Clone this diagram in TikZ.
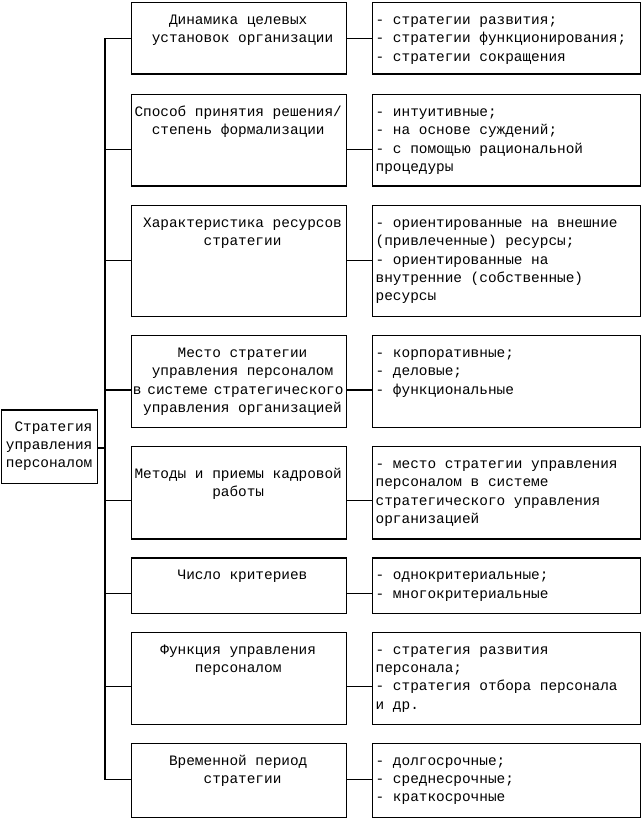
\documentclass[tikz,border=0pt]{standalone}
\usepackage{fontspec}
\newfontfamily\courfont{Liberation Mono}
\newcommand\myld{\hspace*{8.64pt}}
\newcommand\tsp{\hspace{5.9pt}}
\begin{document}
\begin{tikzpicture}[x=1pt,y=-1pt,
  box/.style={draw, line width=1.3pt, inner sep=0pt, anchor=north west},
  txt/.style={inner sep=0pt, font=\courfont\fontsize{14.4pt}{18.33pt}\selectfont},
  mtxt/.style={txt, anchor=base},
  rtxt/.style={txt, anchor=base west},
  ln/.style={line width=1.3pt}]
\useasboundingbox (0,0) rectangle (641,818);

% left box
\node[box, minimum width=96.3pt, minimum height=73.4pt] (L) at (0.7,409.3) {};
\node[txt, anchor=base east] (Lt) at (92.5,431) {\parbox[t]{90pt}{\raggedleft Стратегия\\управления\\персоналом}};

% middle boxes
\node[box, minimum width=215pt, minimum height=71.3pt] (m1) at (130.7,2) {};
\node[box, minimum width=215pt, minimum height=91.3pt] (m2) at (130.7,94) {};
\node[box, minimum width=215pt, minimum height=111pt]  (m3) at (130.7,205) {};
\node[box, minimum width=215pt, minimum height=91.7pt] (m4) at (130.7,335) {};
\node[box, minimum width=215pt, minimum height=92.3pt] (m5) at (130.7,446) {};
\node[box, minimum width=215pt, minimum height=55.4pt] (m6) at (130.7,557.3) {};
\node[box, minimum width=215pt, minimum height=92.3pt] (m7) at (130.7,631.7) {};
\node[box, minimum width=215pt, minimum height=74pt]   (m8) at (130.7,742.7) {};

% right boxes
\node[box, minimum width=267.5pt, minimum height=71.3pt] (r1) at (372,2) {};
\node[box, minimum width=267.5pt, minimum height=91.3pt] (r2) at (372,94) {};
\node[box, minimum width=267.5pt, minimum height=111pt]  (r3) at (372,205) {};
\node[box, minimum width=267.5pt, minimum height=91.7pt] (r4) at (372,335) {};
\node[box, minimum width=267.5pt, minimum height=92.3pt] (r5) at (372,446) {};
\node[box, minimum width=267.5pt, minimum height=55.4pt] (r6) at (372,557.3) {};
\node[box, minimum width=267.5pt, minimum height=92.3pt] (r7) at (372,631.7) {};
\node[box, minimum width=267.5pt, minimum height=74pt]   (r8) at (372,742.7) {};

% middle texts
\node[mtxt] (mt1) at (238.2,24.5) {\parbox[t]{215pt}{\centering Динамика целевых\\\myld установок организации}};
\node[mtxt] (mt2) at (238.2,116.5) {\parbox[t]{215pt}{\centering Способ принятия решения/\\степень формализации}};
\node[mtxt] (mt3) at (238.2,227.5) {\parbox[t]{215pt}{\centering \myld Характеристика ресурсов\\\myld стратегии}};
\node[mtxt] (mt4) at (238.2,357.5) {\parbox[t]{215pt}{\centering \myld Место стратегии\\\myld управления персоналом\\в\tsp системе\tsp стратегического\\\myld управления организацией}};
\node[mtxt] (mt5) at (238.2,478) {\parbox[t]{215pt}{\centering Методы и приемы кадровой\\работы}};
\node[mtxt] (mt6) at (238.2,579.8) {\parbox[t]{215pt}{\centering \myld Число критериев}};
\node[mtxt] (mt7) at (238.2,654.2) {\parbox[t]{215pt}{\centering Функция управления\\персоналом}};
\node[mtxt] (mt8) at (238.2,765.2) {\parbox[t]{215pt}{\centering Временной период\\\myld стратегии}};

% right texts
\node[rtxt] (rt1) at (375.5,24.5) {\parbox[t]{262pt}{\raggedright - стратегии развития;\\- стратегии функционирования;\\- стратегии сокращения}};
\node[rtxt] (rt2) at (375.5,116.5) {\parbox[t]{262pt}{\raggedright - интуитивные;\\- на основе суждений;\\- с помощью рациональной\\процедуры}};
\node[rtxt] (rt3) at (375.5,227.5) {\parbox[t]{262pt}{\raggedright - ориентированные на внешние\\(привлеченные) ресурсы;\\- ориентированные на\\внутренние (собственные)\\ресурсы}};
\node[rtxt] (rt4) at (375.5,357.5) {\parbox[t]{262pt}{\raggedright - корпоративные;\\- деловые;\\- функциональные}};
\node[rtxt] (rt5) at (375.5,468.5) {\parbox[t]{262pt}{\raggedright - место стратегии управления\\персоналом в системе\\стратегического управления\\организацией}};
\node[rtxt] (rt6) at (375.5,579.8) {\parbox[t]{262pt}{\raggedright - однокритериальные;\\- многокритериальные}};
\node[rtxt] (rt7) at (375.5,654.2) {\parbox[t]{262pt}{\raggedright - стратегия развития\\персонала;\\- стратегия отбора персонала\\и др.}};
\node[rtxt] (rt8) at (375.5,765.2) {\parbox[t]{262pt}{\raggedright - долгосрочные;\\- среднесрочные;\\- краткосрочные}};

% connector coordinates
\coordinate (c1) at (105,38.5);
\coordinate (c2) at (105,149.3);
\coordinate (c3) at (105,260.7);
\coordinate (c4) at (105,390);
\coordinate (c5) at (105,500.7);
\coordinate (c6) at (105,593.3);
\coordinate (c7) at (105,686.7);
\coordinate (c8) at (105,779.3);
\coordinate (cL) at (105,448);

% trunk
\draw[ln] (c1 -| m1.west) -- (c1) -- (c8) -- (c8 -| m8.west);
\draw[ln] (cL -| L.east) -- (cL);
\draw[ln] (c2) -- (c2 -| m2.west);
\draw[ln] (c3) -- (c3 -| m3.west);
\draw[ln] (c4) -- (c4 -| m4.west);
\draw[ln] (c5) -- (c5 -| m5.west);
\draw[ln] (c6) -- (c6 -| m6.west);
\draw[ln] (c7) -- (c7 -| m7.west);

% middle to right
\draw[ln] (c1 -| m1.east) -- (c1 -| r1.west);
\draw[ln] (c2 -| m2.east) -- (c2 -| r2.west);
\draw[ln] (c3 -| m3.east) -- (c3 -| r3.west);
\draw[ln] (c4 -| m4.east) -- (c4 -| r4.west);
\draw[ln] (c5 -| m5.east) -- (c5 -| r5.west);
\draw[ln] (c6 -| m6.east) -- (c6 -| r6.west);
\draw[ln] (c7 -| m7.east) -- (c7 -| r7.west);
\draw[ln] (c8 -| m8.east) -- (c8 -| r8.west);
\end{tikzpicture}
\end{document}
